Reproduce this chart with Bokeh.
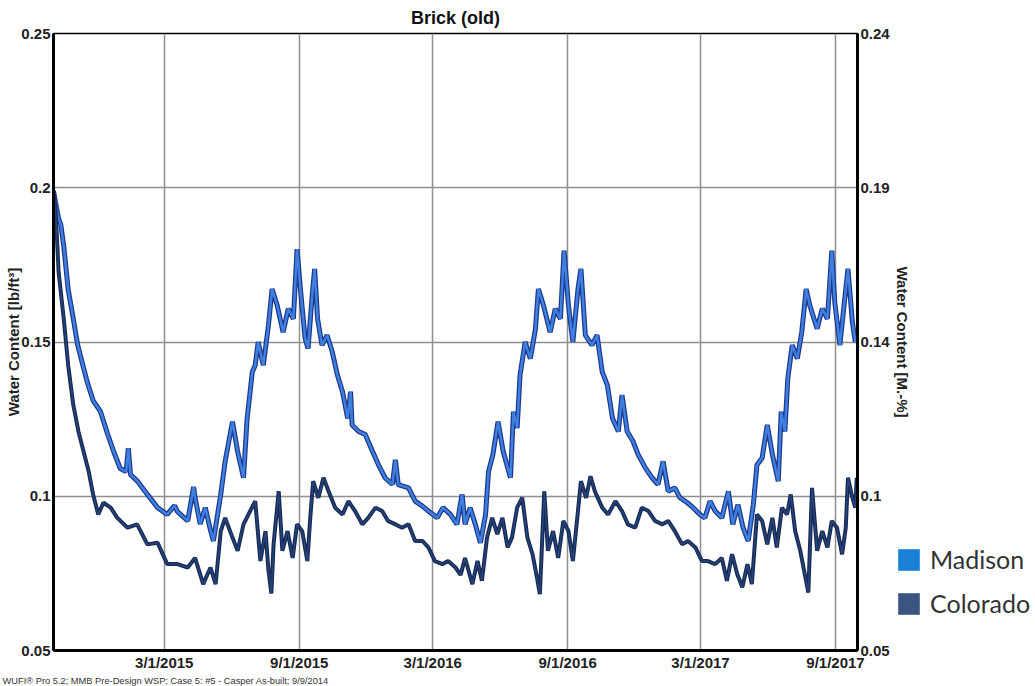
import pandas as pd
from bokeh.plotting import figure
from bokeh.layouts import row
from bokeh.models import Range1d, LinearAxis, FixedTicker, Legend, LegendItem, Title
from bokeh.embed import file_html
from bokeh.resources import INLINE

# ---------------- data ----------------
start_date = "2014-10-01"
end_date = "2017-10-01"

madison_days = [
    0, 3, 7, 10, 14, 20, 27, 33, 40, 46,
    54, 64, 74, 82, 91, 99, 102, 105, 114, 128,
    142, 155, 165, 169, 183, 191, 193, 200, 207, 214,
    218, 228, 234, 244, 251, 259, 264, 271, 275, 279,
    286, 293, 298, 305, 313, 320, 327, 332, 337, 343,
    347, 353, 356, 360, 366, 373, 380, 387, 394, 401,
    405, 407, 416, 425, 435, 443, 452, 462, 466, 470,
    484, 493, 503, 511, 523, 531, 541, 550, 557, 561,
    568, 575, 582, 589, 593, 599, 606, 613, 623, 627,
    632, 636, 643, 650, 657, 661, 668, 677, 684, 691,
    696, 702, 708, 715, 719, 725, 734, 741, 748, 755,
    762, 770, 775, 782, 790, 797, 807, 816, 824, 831,
    838, 847, 854, 864, 872, 881, 888, 895, 902, 911,
    920, 926, 933, 940, 947, 954, 959, 966, 973, 980,
    988, 992, 997, 1001, 1007, 1014, 1020, 1026, 1031, 1041,
    1048, 1055, 1061, 1065, 1072, 1080, 1083, 1089, 1093, 1095,
]
madison_wc = [
    .199, .195, .190, .188, .181, .167, .1575, .149, .1425, .137,
    .131, .1275, .120, .1145, .109, .108, .1156, .107, .105, .1006,
    .0963, .0941, .097, .095, .092, .103, .0995, .091, .0963, .089,
    .0855, .1006, .1113, .1242, .1145, .106, .1253, .1403, .1425, .150,
    .1425, .1554, .1672, .1618, .1532, .1608, .1575, .1801, .1661, .1511,
    .1479, .1661, .1737, .1575, .149, .1522, .1468, .1393, .1339, .1253,
    .1339, .1231, .121, .120, .1145, .1102, .106, .1038, .1118, .1038,
    .1027, .0984, .0968, .0952, .093, .0963, .0941, .0909, .1006, .0909,
    .0963, .0909, .0849, .0941, .108, .1135, .1242, .1145, .106, .1274,
    .1221, .1393, .150, .1446, .1543, .1672, .1618, .1532, .1608, .1575,
    .1796, .1618, .150, .1672, .1737, .1522, .149, .1522, .1403, .136,
    .1253, .121, .1328, .121, .1178, .1135, .1091, .106, .1038, .1113,
    .1016, .1027, .0995, .0979, .0963, .0941, .093, .0984, .0952, .093,
    .1016, .0909, .0973, .0898, .0855, .0973, .1102, .1124, .1231, .1135,
    .1049, .1274, .121, .1382, .149, .1446, .1532, .1672, .1618, .1543,
    .1608, .1575, .1796, .1629, .149, .1672, .1737, .1565, .150, .152,
]

colorado_days = [
    0, 3, 7, 14, 20, 27, 34, 41, 48, 54,
    61, 68, 78, 87, 101, 114, 128, 142, 155, 169,
    183, 193, 204, 214, 221, 228, 234, 244, 251, 259,
    268, 275, 282, 289, 293, 297, 300, 307, 312, 319,
    326, 332, 339, 346, 350, 354, 361, 368, 375, 384,
    394, 402, 411, 421, 429, 439, 448, 456, 466, 475,
    484, 493, 503, 511, 520, 530, 538, 548, 555, 561,
    571, 578, 584, 591, 598, 605, 612, 619, 625, 632,
    639, 646, 653, 659, 663, 669, 674, 681, 688, 695,
    702, 708, 714, 719, 726, 732, 738, 748, 756, 766,
    775, 783, 793, 802, 811, 820, 830, 838, 847, 857,
    865, 875, 884, 892, 902, 911, 918, 925, 932, 939,
    946, 952, 959, 966, 973, 980, 986, 993, 1000, 1005,
    1011, 1018, 1025, 1029, 1034, 1041, 1048, 1055, 1061, 1068,
    1075, 1080, 1083, 1089, 1093, 1095,
]
colorado_wc = [
    .199, .192, .1726, .1575, .1425, .1296, .121, .1145, .108, .1006,
    .0941, .0979, .0963, .093, .0898, .0909, .0844, .0849, .078, .078,
    .0769, .080, .0715, .0769, .0715, .0887, .093, .0866, .0823, .0909,
    .0952, .0984, .079, .0887, .076, .0685, .0844, .1016, .0823, .0887,
    .080, .0909, .0887, .079, .093, .1049, .0995, .106, .1016, .0963,
    .0941, .0984, .0952, .0909, .093, .0963, .0952, .092, .0909, .0898,
    .0909, .0855, .0855, .0834, .079, .078, .079, .0769, .0745, .080,
    .0715, .079, .0726, .0866, .093, .0877, .093, .0834, .0866, .0963,
    .0995, .0866, .0812, .0737, .0683, .1016, .0823, .0887, .080, .092,
    .0887, .079, .093, .1049, .0995, .1065, .1016, .0963, .0941, .0984,
    .0952, .0909, .0898, .0963, .0952, .092, .0909, .092, .0887, .0844,
    .0855, .0834, .079, .079, .078, .080, .0726, .0812, .0748, .0705,
    .078, .0715, .0941, .092, .0844, .093, .0834, .0963, .0941, .1006,
    .0887, .0823, .0737, .0688, .1027, .0823, .0887, .0834, .092, .0898,
    .0812, .0898, .106, .0995, .0963, .106,
]

x_tick_dates = ["2015-03-01", "2015-09-01", "2016-03-01", "2016-09-01", "2017-03-01", "2017-09-01"]
x_tick_labels = ["3/1/2015", "9/1/2015", "3/1/2016", "9/1/2016", "3/1/2017", "9/1/2017"]

left_ticks = [0.05, 0.10, 0.15, 0.20, 0.25]
left_tick_labels = ["0.05", "0.1", "0.15", "0.2", "0.25"]

right_range = (0.05, 0.24)
right_ticks = [0.05, 0.0975, 0.145, 0.1925, 0.24]
right_tick_labels = ["0.05", "0.1", "0.14", "0.19", "0.24"]

series_names = ["Madison", "Colorado"]
legend_colors = ["#1a80d6", "#3a5580"]

title_text = "Brick (old)"
left_label = "Water Content [lb/ft\u00b3]"
right_label = "Water Content [M.-%]"
footer_text = "WUFI\u00ae Pro 5.2; MMB Pre-Design WSP; Case 5: #5 - Casper As-built; 9/9/2014"

# ---------------- main figure ----------------
FONT = "Liberation Sans"
start = pd.Timestamp(start_date)
end = pd.Timestamp(end_date)


def to_dates(days):
    return start + pd.to_timedelta(days, unit="D")


p = figure(
    width=914, height=686,
    output_backend="svg", toolbar_location=None,
    x_axis_type="datetime",
    x_range=Range1d(start, end), y_range=Range1d(left_ticks[0], left_ticks[-1]),
    min_border_left=53, min_border_right=57, min_border_top=33, min_border_bottom=34,
    title=title_text,
)
p.background_fill_color = "white"
p.border_fill_color = "white"
p.outline_line_color = "black"
p.outline_line_width = 1.5

p.title.align = "center"
p.title.text_font = FONT
p.title.text_font_size = "18px"
p.title.text_font_style = "bold"
p.title.text_color = "#111111"
p.title.standoff = 11

# x axis
x_ms = [float(pd.Timestamp(d).value // 10**6) for d in x_tick_dates]
xticker = FixedTicker(ticks=x_ms)
xax = p.below[0]
xax.ticker = xticker
xax.major_label_overrides = {k: v for k, v in zip(x_ms, x_tick_labels)}
p.xgrid.ticker = xticker

# left axis
yticker = FixedTicker(ticks=left_ticks)
yax = p.left[0]
yax.ticker = yticker
yax.major_label_overrides = {k: v for k, v in zip(left_ticks, left_tick_labels)}
yax.axis_label = left_label
p.ygrid.ticker = yticker

# right axis
p.extra_y_ranges = {"pct": Range1d(*right_range)}
rax = LinearAxis(y_range_name="pct", ticker=FixedTicker(ticks=right_ticks),
                 major_label_overrides={k: v for k, v in zip(right_ticks, right_tick_labels)},
                 axis_label=right_label)
p.add_layout(rax, "right")

for ax in (xax, yax, rax):
    ax.axis_line_color = "black"
    ax.axis_line_width = 3
    ax.major_tick_in = 0
    ax.major_tick_out = 0
    ax.minor_tick_line_color = None
    ax.major_label_text_font = FONT
    ax.major_label_text_font_style = "bold"
    ax.major_label_text_font_size = "15px"
    ax.major_label_text_color = "#222222"
    ax.major_label_standoff = 3
    ax.axis_label_text_font = FONT
    ax.axis_label_text_font_style = "bold"
    ax.axis_label_text_font_size = "15px"
    ax.axis_label_text_color = "#222222"
yax.axis_label_standoff = -4
rax.axis_label_standoff = 1

for g in (p.xgrid, p.ygrid):
    g.grid_line_color = "#8f8f8f"
    g.grid_line_width = 1.5

# series
mad_x = to_dates(madison_days)
col_x = to_dates(colorado_days)
p.line(mad_x, madison_wc, line_color="#1d3a8c", line_width=5)
p.line(mad_x, madison_wc, line_color="#3f7fe0", line_width=2.5)
p.line(col_x, colorado_wc, line_color="#172b55", line_width=4)
p.line(col_x, colorado_wc, line_color="#26447a", line_width=1.4)

# footer
footer = Title(text=footer_text, align="left", offset=-51, standoff=1,
               text_font=FONT, text_font_size="9.3px", text_font_style="normal",
               text_color="#333333")
p.add_layout(footer, "below")

# ---------------- legend panel (right of the chart) ----------------
leg = figure(
    width=140, height=686, output_backend="svg", toolbar_location=None,
    x_axis_type=None, y_axis_type=None,
    x_range=Range1d(0, 1), y_range=Range1d(0, 1),
    min_border=0, outline_line_color=None,
)
leg.margin = (0, 0, 0, -19)
leg.xgrid.visible = False
leg.ygrid.visible = False
leg.background_fill_alpha = 0
leg.border_fill_alpha = 0
nan = float("nan")
r_m = leg.quad(left=[nan], right=[nan], bottom=[nan], top=[nan],
               fill_color=legend_colors[0], line_color=None)
r_c = leg.quad(left=[nan], right=[nan], bottom=[nan], top=[nan],
               fill_color=legend_colors[1], line_color=None)
legend = Legend(
    items=[LegendItem(label=series_names[0], renderers=[r_m]),
           LegendItem(label=series_names[1], renderers=[r_c])],
    location=(0, 32),
    border_line_color=None, background_fill_alpha=0,
    label_text_font="Lato", label_text_font_size="25px", label_text_color="#333333",
    glyph_width=27, glyph_height=27, label_height=27, spacing=14,
    padding=0, margin=0, label_standoff=8,
)
leg.add_layout(legend)

layout = row(p, leg)
open("out.html", "w").write(file_html(layout, INLINE))
